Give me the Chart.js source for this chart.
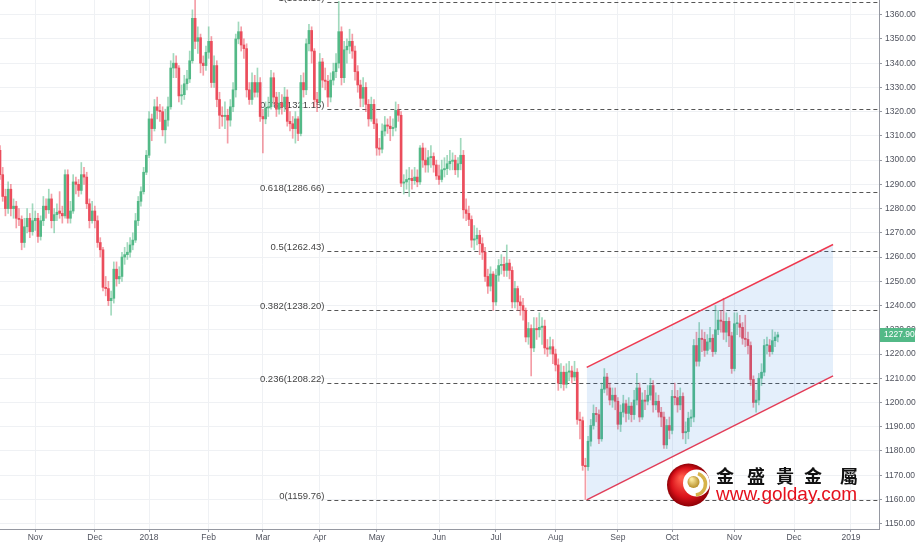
<!DOCTYPE html>
<html>
<head>
<meta charset="utf-8">
<title>XAUUSD Daily</title>
<script src="https://cdn.jsdelivr.net/npm/chart.js@4.4.1/dist/chart.umd.min.js"></script>
<style>
  html, body { margin: 0; padding: 0; background: #fff; }
  #wrap { width: 918px; height: 549px; }
</style>
</head>
<body>
<div id="wrap"><canvas id="myChart" width="918" height="549"></canvas></div>
<script>
// ---------------- DATA (daily candles, 13 Oct 2017 - 23 Nov 2018) ----------------
const opens = [
  1304,1294,1285,1280,1288,1280,1281,1276,1275.5,1266,1272.5,1276,1270.5,
  1275,1276,1268.5,1275,1281,1279.5,1284,1275,1277.5,1279,1278,1277,1294,1276,1279,1291,1290,1287.5,1294,1293,1282,1275,
  1279,1275,1266,1263,1247.5,1247,1242,1243,1255,1251,1252,1260,1261,1262,1265,1267,1275,1283,1287,1295,
  1302,1317,1313,1322,1320.5,1320,1312.5,1316.5,1322,1338,1340,1338,1326.5,1327,1331.5,1333.5,1341,1358.5,1349,1350.5,1340,1339,
  1344.5,1349,1332,1339,1325,1318.5,1318,1318.5,1316.5,1322,1329,1350,1353,1347.5,1346,1329,1325,1332,1328,1332,
  1318,1317,1321.5,1322,1334,1326,1321,1323.5,1322,1326,1316,1315,1313,1317,1311,1332,1329,1348,1353.5,1345,1325,
  1324,1340.5,1333,1332.5,1326,1333,1336.5,1340,1353,1334,1345.5,1347,1349,1345,1336.5,1331,1325.5,1330,1323,1317,1323,
  1315,1305,1304.5,1312,1314.5,1314,1313,1313.5,1320.5,1318.5,1290.5,1291,1292,1292.5,1291.5,1293,1291,1305,1300,1298,1301,1301.5,1298,
  1293.5,1292,1296,1296.5,1298.5,1299.5,1300,1296,1298.5,1302,1279.5,1278,1275.5,1267,1267.5,1269,1265.5,1262,1252,1248,1253,
  1241.5,1252.5,1256.5,1257,1254.5,1257.5,1254.5,1241.5,1247,1241.5,1240,1238,1227,1230.5,1222.5,1230.5,1230,1231,1231.5,1222.5,1222,1223,
  1220,1215.5,1208,1212.5,1207.5,1212.5,1213,1210.5,1212.5,1193,1192.5,1174,1173.5,1184,1190.5,1195.5,1195,1185,1205.5,1210.5,1206,1201,1203,
  1200.5,1191,1196,1199.5,1195.5,1198.5,1195,1201,1206,1194,1201,1200.5,1203,1207,1199,1200.5,1196,1194,1182.5,1190.5,
  1188.5,1202.5,1202,1199,1202.5,1187.5,1188,1193.5,1194,1223.5,1217,1226.5,1226,1221.5,1225,1226.5,1221,1230,1234,1233.5,1229,1233.5,1227.5,
  1214,1232.5,1232.5,1231,1226.5,1226,1223.5,1209.5,1200,1201,1210,1212.5,1223.5,1223.5,1221,1225.5,1227
];
const highs = [
  1306,1297,1288,1291,1290,1284,1283,1280,1277,1276,1280,1278,1282,
  1279,1278,1277,1285,1284,1288,1286,1280,1282,1287,1281,1296,1296,1283,1294,1293,1292,1299,1297,1295,1284,1283,
  1281,1277,1268,1264,1252,1250,1246,1258,1258,1256,1262,1264,1266,1268,1270,1278,1285,1289,1297,1304,
  1320,1319,1325,1326,1323,1322,1321,1326,1341,1344,1343,1339,1331,1335,1337,1345,1362,1366,1355,1352,1343,1347,
  1355,1351,1343,1341,1328,1322,1324,1321,1325,1332,1352,1357,1355,1350,1348,1332,1336,1335,1338,1334,
  1321,1324,1326,1337,1336,1328,1328,1327,1330,1329,1320,1318,1320,1318,1335,1336,1350,1356,1355,1346,1328,
  1344,1342,1338,1335,1336,1340,1344,1365.5,1355,1349,1350,1354,1352,1347,1339,1333,1334,1332,1325,1326,1325,
  1317,1309,1315,1318,1317,1318,1317,1324,1323,1320,1294,1296,1297,1296,1297,1296,1306,1307,1305,1304,1306,1303,1300,
  1298,1300,1301,1302,1304,1303,1302,1301,1309,1304,1284,1281,1277,1273,1272,1271,1268,1264,1255,1256,1254,
  1255,1259,1261,1260,1265,1259,1256,1250,1248,1244,1243,1239,1233,1232,1235,1235,1237,1235,1234,1226,1227,1226,
  1222,1218,1216,1215,1216,1217,1215,1217,1214,1196,1194,1177,1186,1193,1199,1198,1197,1208,1214,1212,1208,1206,1206,
  1202,1199,1203,1201,1202,1200,1205,1212,1208,1204,1205,1207,1210,1209,1204,1203,1198,1196,1193,1194,
  1205,1208,1205,1206,1204,1192,1196,1197,1226,1229,1233,1230,1229,1228,1231,1228,1240,1238,1238,1243,1237,1235,1229,
  1237,1237,1236,1233,1236,1229,1225,1211,1205,1212,1216,1226,1227,1226,1230,1229,1229
];
const lows = [
  1292,1283,1277,1278,1277,1276,1272,1273,1263,1264,1270,1268,1269,
  1271,1266,1267,1273,1276,1278,1272,1270,1275,1276,1274,1276,1274,1274,1278,1286,1285,1286,1290,1280,1272,1274,
  1272,1264,1260,1246,1244,1240,1236,1241,1248,1249,1250,1257,1259,1260,1263,1266,1273,1281,1286,1294,
  1301,1308,1312,1317,1316,1310,1307,1314,1321,1334,1334,1324,1323,1325,1329,1332,1340,1346,1344,1336,1335,1337,
  1342,1330,1330,1322,1313,1314,1313,1307,1314,1320,1326,1348,1345,1342,1326,1323,1323,1326,1326,1316,
  1303,1315,1318,1321,1323,1318,1319,1319,1320,1314,1312,1309,1307,1308,1310,1326,1327,1345,1340,1322,1320,
  1323,1330,1329,1322,1324,1331,1334,1338,1331,1332,1340,1344,1342,1333,1328,1322,1322,1320,1314,1316,1313,
  1302,1302,1303,1310,1311,1308,1310,1312,1316,1289,1286,1288,1285,1288,1290,1289,1290,1297,1295,1295,1297,1295,1292,
  1290,1291,1293,1294,1296,1296,1294,1293,1296,1276,1275,1273,1264,1263,1265,1261,1259,1250,1245,1246,1238,
  1240,1250,1253,1252,1252,1251,1239,1239,1238,1236,1234,1225,1224,1211,1221,1226,1227,1224,1220,1219,1220,1216,
  1213,1205,1206,1205,1206,1209,1208,1209,1191,1185,1172,1160,1172,1182,1189,1192,1183,1184,1204,1203,1199,1198,1197,
  1189,1188,1194,1192,1193,1192,1193,1199,1192,1193,1197,1199,1201,1196,1197,1194,1190,1181,1181,1185,
  1187,1199,1196,1197,1185,1183,1185,1190,1192,1215,1215,1221,1219,1220,1222,1219,1220,1228,1229,1226,1225,1223,1212,
  1213,1228,1227,1224,1223,1220,1207,1198,1196,1199,1207,1211,1220,1219,1220,1223,1225
];
const closes = [
  1294,1285,1280,1288,1280,1281,1276,1275.5,1266,1272.5,1276,1270.5,1275,
  1276,1268.5,1275,1281,1279.5,1284,1275,1277.5,1278.5,1278,1277,1294,1276,1279,1291,1290,1287.5,1294,1293,1282,1275,1279,
  1275,1266,1263,1247.5,1247,1242,1243,1255,1251,1252,1260,1261,1262,1265,1267,1275,1283,1287,1295,1302,
  1317,1313,1322,1320.5,1320,1312.5,1316.5,1322,1338,1340,1338,1326.5,1327,1331.5,1333.5,1341,1358.5,1349,1350.5,1340,1339,1344.5,
  1349,1332,1339,1325,1318.5,1318,1318.5,1316.5,1322,1329,1350,1353,1347.5,1346,1329,1325,1332,1328,1332,1318,
  1317,1321.5,1322,1334,1326,1321,1323.5,1322,1326,1316,1315,1313,1317,1311,1332,1329,1348,1353.5,1345,1325,1324,
  1340.5,1333,1332.5,1326,1333,1336.5,1340,1353,1334,1345.5,1347,1349,1345,1336.5,1331,1325.5,1330,1323,1317,1323,1315,
  1305,1304.5,1312,1314.5,1314,1313,1313.5,1320.5,1318.5,1290.5,1291,1292,1292.5,1291.5,1293,1291,1305,1300,1298,1301,1301.5,1298,1293.5,
  1292,1296,1296.5,1298.5,1299.5,1300,1296,1298.5,1302,1279.5,1278,1275.5,1267,1267.5,1269,1265.5,1262,1252,1248,1253,1241.5,
  1252.5,1256.5,1257,1254.5,1257.5,1254.5,1241.5,1247,1241.5,1240,1238,1227,1230.5,1222.5,1230.5,1230,1231,1231.5,1222.5,1222,1223,1220,
  1215.5,1208,1212.5,1207.5,1212.5,1213,1210.5,1212.5,1193,1192.5,1174,1173.5,1184,1190.5,1195.5,1195,1185,1205.5,1210.5,1206,1201,1203,1200.5,
  1191,1196,1199.5,1195.5,1198.5,1195,1201,1206,1194,1201,1200.5,1203,1207,1199,1200.5,1196,1194,1182.5,1190.5,1188.5,
  1202.5,1202,1199,1202.5,1187.5,1188,1193.5,1194,1223.5,1217,1226.5,1226,1221.5,1225,1226.5,1221,1230,1234,1233.5,1229,1233.5,1227.5,1214,
  1232.5,1232.5,1231,1226.5,1226,1223.5,1209.5,1200,1201,1210,1212.5,1223.5,1223.5,1221,1225.5,1227,1227.9
];

// month starts (bar index) and their axis labels
const monthTickIndex = [13, 35, 55, 77, 97, 118, 139, 162, 183, 205, 228, 248, 271, 293, 314];
const monthTickLabels = ["Nov", "Dec", "2018", "Feb", "Mar", "Apr", "May", "Jun", "Jul", "Aug", "Sep", "Oct", "Nov", "Dec", "2019"];

const priceTicks = [1150,1160,1170,1180,1190,1200,1210,1220,1230,1240,1250,1260,1270,1280,1290,1300,1310,1320,1330,1340,1350,1360];

// fibonacci retracement levels
const fibLevels = [1159.76, 1208.22, 1238.20, 1262.43, 1286.66, 1321.15, 1365.10];
const fibLabels = ["0(1159.76)", "0.236(1208.22)", "0.382(1238.20)", "0.5(1262.43)", "0.618(1286.66)", "0.786(1321.15)", "1(1365.10)"];
const fibStartIndex = 120.8;

// rising channel: [bar index, price]
const channelUpper = [[216.5, 1214.5], [307.4, 1265.2]];
const channelLower = [[216.5, 1159.8], [307.4, 1211.0]];

// ---------------- STYLE ----------------
const upColor = "#53b987";
const downColor = "#eb4d5c";
const upWick = "rgba(83,185,135,0.55)";
const downWick = "rgba(235,77,92,0.55)";
const channelColor = "#ee3a50";
const axisFont = { family: "'Liberation Sans', Arial, sans-serif", size: 8.5 };
const textColor = "#50535e";
const gridColor = "#eff1f4";

const isUp = i => closes[i] >= opens[i];
const wickData = closes.map((_, i) => ({ x: i, y: [lows[i], highs[i]] }));
const bodyData = closes.map((_, i) => ({ x: i, y: [opens[i], closes[i]] }));

// ---------------- PLUGINS ----------------
// fib lines sit under the candles, like on the original
const fibPlugin = {
    id: "fibLines",
    beforeDatasetsDraw(c) {
        const { ctx, chartArea, scales } = c;
        const x0 = scales.x.getPixelForValue(fibStartIndex);
        ctx.save();
        ctx.strokeStyle = "#555";
        ctx.lineWidth = 1;
        ctx.setLineDash([4, 3]);
        ctx.font = "9.5px 'Liberation Sans', Arial, sans-serif";
        ctx.fillStyle = "#444";
        ctx.textAlign = "right";
        ctx.textBaseline = "bottom";
        fibLevels.forEach((v, k) => {
            const y = Math.round(scales.y.getPixelForValue(v)) + 0.5;
            ctx.beginPath();
            ctx.moveTo(x0, y);
            ctx.lineTo(chartArea.right, y);
            ctx.stroke();
            ctx.fillText(fibLabels[k], x0 - 3, y + 0.5);
        });
        ctx.restore();
    }
};

const logoPlugin = {
    id: "logo",
    afterDatasetsDraw(c) {
        const ctx = c.ctx;
        const cx = 688.5, cy = 485, r = 21.5;
        ctx.save();
        const g = ctx.createRadialGradient(cx - 7, cy - 7, 2, cx, cy, r);
        g.addColorStop(0, "#ff5a4a");
        g.addColorStop(0.65, "#d9121a");
        g.addColorStop(1, "#8e0006");
        ctx.fillStyle = g;
        ctx.beginPath();
        ctx.arc(cx, cy, r, 0, Math.PI * 2);
        ctx.fill();
        // white opening of the "C"
        ctx.save();
        ctx.beginPath();
        ctx.arc(cx, cy, r, 0, Math.PI * 2);
        ctx.clip();
        ctx.fillStyle = "#fff";
        ctx.beginPath();
        ctx.arc(cx + 8, cy - 2, 13.5, 0, Math.PI * 2);
        ctx.fill();
        ctx.restore();
        // gold crescent
        ctx.strokeStyle = "#d7b24a";
        ctx.lineWidth = 3.5;
        ctx.beginPath();
        ctx.arc(cx + 6, cy - 1, 11, -1.25, 1.45);
        ctx.stroke();
        // gold ball
        const gb = ctx.createRadialGradient(cx + 3, cy - 6, 1, cx + 5, cy - 3, 6.5);
        gb.addColorStop(0, "#fbeaa0");
        gb.addColorStop(1, "#b48a22");
        ctx.fillStyle = gb;
        ctx.beginPath();
        ctx.arc(cx + 5, cy - 3, 6, 0, Math.PI * 2);
        ctx.fill();

        // company name
        ctx.fillStyle = "#111";
        ctx.font = "bold 18px 'Noto Sans CJK TC', 'Noto Sans CJK SC', sans-serif";
        ctx.textAlign = "center";
        ctx.textBaseline = "middle";
        const chars = ["金", "盛", "貴", "金", "屬"];
        const cxs = [725, 756, 785, 813, 849];
        chars.forEach((ch, k) => ctx.fillText(ch, cxs[k], 476));

        ctx.fillStyle = "#e5101c";
        ctx.font = "19px 'Liberation Sans', Arial, sans-serif";
        ctx.textAlign = "left";
        ctx.textBaseline = "alphabetic";
        ctx.fillText("www.golday.com", 716, 500);
        ctx.restore();
    }
};

const lastPricePlugin = {
    id: "lastPrice",
    afterDraw(c) {
        const { ctx, chartArea, scales } = c;
        const last = closes[closes.length - 1];
        const y = scales.y.getPixelForValue(last);
        ctx.save();
        ctx.fillStyle = upColor;
        ctx.fillRect(chartArea.right + 1, Math.round(y) - 7, 35, 14);
        ctx.fillStyle = "#fff";
        ctx.font = "8.5px 'Liberation Sans', Arial, sans-serif";
        ctx.textAlign = "left";
        ctx.textBaseline = "middle";
        ctx.fillText(last.toFixed(2), chartArea.right + 5, Math.round(y));
        ctx.restore();
    }
};

// ---------------- CHART ----------------
const ctx = document.getElementById("myChart").getContext("2d");

const chart = new Chart(ctx, {
    type: "bar",
    data: {
        datasets: [
            {
                label: "wick",
                data: wickData,
                backgroundColor: c => isUp(c.dataIndex) ? upWick : downWick,
                barThickness: 1,
                grouped: false,
                borderWidth: 0,
                order: 2
            },
            {
                label: "body",
                data: bodyData,
                backgroundColor: c => isUp(c.dataIndex) ? upColor : downColor,
                barThickness: 2,
                minBarLength: 1,
                grouped: false,
                borderWidth: 0,
                order: 1
            },
            {
                type: "line",
                label: "channel top",
                data: channelUpper.map(p => ({ x: p[0], y: p[1] })),
                borderColor: channelColor,
                borderWidth: 1.5,
                pointRadius: 0,
                fill: "+1",
                backgroundColor: "rgba(33,120,220,0.12)",
                order: 0
            },
            {
                type: "line",
                label: "channel bottom",
                data: channelLower.map(p => ({ x: p[0], y: p[1] })),
                borderColor: channelColor,
                borderWidth: 1.5,
                pointRadius: 0,
                fill: false,
                order: 0
            }
        ]
    },
    options: {
        responsive: false,
        animation: false,
        devicePixelRatio: 1,
        layout: { padding: 0 },
        plugins: {
            legend: { display: false },
            tooltip: { enabled: false }
        },
        scales: {
            x: {
                type: "linear",
                min: 0,
                max: 324.35,
                offset: false,
                afterBuildTicks: axis => { axis.ticks = monthTickIndex.map(v => ({ value: v })); },
                afterFit: axis => {
                    axis.height = 20;
                    axis.paddingLeft = 0;
                    axis.paddingRight = 0;
                },
                ticks: {
                    autoSkip: false,
                    maxRotation: 0,
                    padding: 1,
                    font: axisFont,
                    color: textColor,
                    callback: v => {
                        const k = monthTickIndex.indexOf(v);
                        return k >= 0 ? monthTickLabels[k] : "";
                    }
                },
                grid: { color: gridColor, offset: false, tickLength: 3, tickColor: "#9598a1" },
                border: { display: true, color: "#9598a1" }
            },
            y: {
                type: "linear",
                position: "right",
                min: 1147.8,
                max: 1366.06,
                afterBuildTicks: axis => { axis.ticks = priceTicks.map(v => ({ value: v })); },
                afterFit: axis => {
                    axis.width = 39;
                    axis.paddingTop = 0;
                    axis.paddingBottom = 0;
                },
                ticks: {
                    padding: 3,
                    font: axisFont,
                    color: textColor,
                    callback: v => v.toFixed(2)
                },
                grid: { color: gridColor, tickLength: 3, tickColor: "#9598a1" },
                border: { display: true, color: "#9598a1" }
            }
        }
    },
    plugins: [fibPlugin, logoPlugin, lastPricePlugin]
});
</script>
</body>
</html>
